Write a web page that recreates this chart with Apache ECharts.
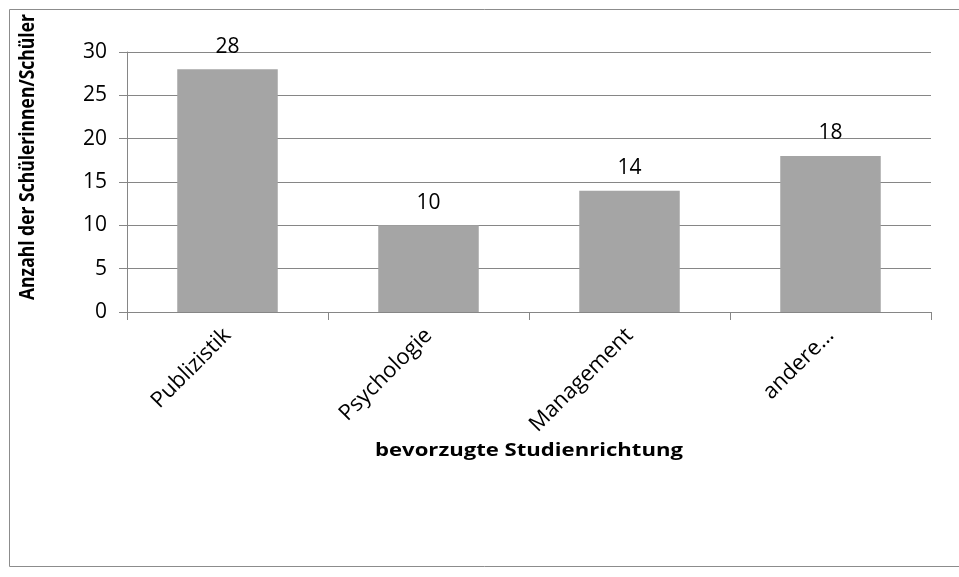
<!DOCTYPE html>
<html lang="de">
<head>
    <meta charset="UTF-8">
    <script type="text/javascript" src="https://cdn.jsdelivr.net/npm/echarts@6/dist/echarts.min.js"></script>
    <title>Studienrichtung</title>
    <style type="text/css">
        html, body {
            margin: 0;
            padding: 0;
            background: #fff;
        }

        #chart {
            width: 959px;
            height: 577px;
        }
    </style>
</head>
<body>
<div id="chart"></div>
<script type="text/javascript">
    const categories = ['Publizistik', 'Psychologie', 'Management', 'andere...'];
    const counts = [28, 10, 14, 18];
    const yTitle = 'Anzahl der Schülerinnen/Schüler';
    const xTitle = 'bevorzugte Studienrichtung';

    let chart = echarts.init(document.getElementById('chart'));
    const font = '"Open Sans", sans-serif';

    let option = {
        animation: false,
        textStyle: {fontFamily: font},
        grid: {left: 127, right: 28, top: 52, bottom: 265},
        graphic: [
            {
                type: 'rect',
                shape: {x: 9.5, y: 9.5, width: 960, height: 557},
                style: {fill: 'none', stroke: '#8c8c8c', lineWidth: 1}
            },
            {
                // rotated y title, widened a bit like the original picture
                type: 'text',
                x: 28, y: 157,
                rotation: Math.PI / 2,
                scaleY: 1.2,
                style: {
                    text: yTitle, fill: '#000', fontFamily: font,
                    fontSize: 17.5, fontWeight: 'bold',
                    align: 'center', verticalAlign: 'middle'
                }
            },
            {
                type: 'text',
                x: 529, y: 451,
                scaleX: 1.3,
                style: {
                    text: xTitle, fill: '#000', fontFamily: font,
                    fontSize: 17, fontWeight: 'bold',
                    align: 'center', verticalAlign: 'middle'
                }
            }
        ],
        xAxis: {
            type: 'category',
            data: categories,
            axisLine: {lineStyle: {color: '#868686'}},
            axisTick: {show: true, length: 8, lineStyle: {color: '#868686'}},
            axisLabel: {rotate: 45, margin: 20, color: '#000', fontSize: 22, fontFamily: font}
        },
        yAxis: {
            type: 'value',
            min: 0,
            max: 30,
            interval: 5,
            axisLine: {show: true, lineStyle: {color: '#868686'}},
            axisTick: {show: true, length: 8, lineStyle: {color: '#868686'}},
            axisLabel: {color: '#000', fontSize: 21, margin: 20, fontFamily: font},
            splitLine: {lineStyle: {color: '#868686'}}
        },
        series: [{
            type: 'bar',
            data: counts,
            barWidth: '50%',
            itemStyle: {color: '#a5a5a5'},
            label: {
                show: true,
                position: 'top',
                distance: 12,
                color: '#000',
                fontSize: 21,
                fontFamily: font
            }
        }]
    };
    chart.setOption(option);
</script>
</body>
</html>
